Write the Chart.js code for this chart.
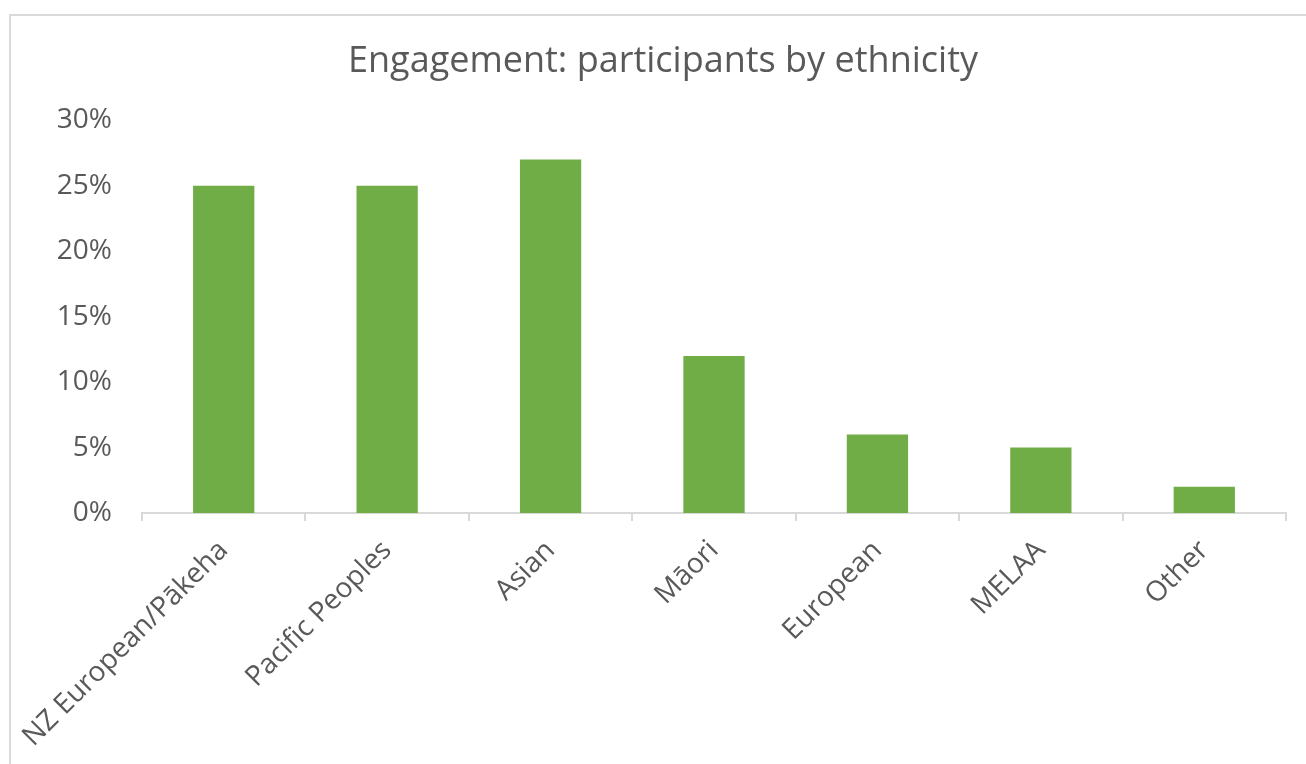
<!DOCTYPE html>
<html>
<head>
<meta charset="utf-8">
<script src="https://cdn.jsdelivr.net/npm/chart.js@4.4.0/dist/chart.umd.min.js"></script>
<style>
  html, body { margin: 0; padding: 0; background: #fff; overflow: hidden; }
  #frame { position: absolute; left: 9px; top: 14px; width: 2000px; height: 2000px; border: 2px solid #d9d9d9; }
  #wrap { position: absolute; left: 0; top: 0; width: 1306px; height: 764px; }
</style>
</head>
<body>
<div id="frame"></div>
<div id="wrap"><canvas id="chart" width="1306" height="764"></canvas></div>
<script>
// --- data ---
const categories = ['NZ European/Pākeha', 'Pacific Peoples', 'Asian', 'Māori', 'European', 'MELAA', 'Other'];
const participants = [25, 25, 27, 12, 6, 5, 2];
const yTicks = [0, 5, 10, 15, 20, 25, 30];

const textColor = '#595959';
const fontFamily = '"Open Sans", "Noto Sans", sans-serif';

const ctx = document.getElementById('chart').getContext('2d');
new Chart(ctx, {
    type: 'bar',
    data: {
        labels: categories,
        datasets: [{
            data: participants,
            backgroundColor: '#70ad47',
            borderWidth: 0,
            categoryPercentage: 1,
            barPercentage: 0.375
        }]
    },
    options: {
        responsive: false,
        animation: false,
        layout: { padding: { left: 40, right: 20, top: 0, bottom: 0 } },
        plugins: {
            legend: { display: false },
            tooltip: { enabled: false },
            title: {
                display: true,
                text: 'Engagement: participants by ethnicity',
                color: textColor,
                font: { family: fontFamily, size: 36, weight: 'normal' },
                padding: { top: 40, bottom: 37 }
            }
        },
        scales: {
            y: {
                min: 0,
                max: 30,
                afterBuildTicks: axis => { axis.ticks = yTicks.map(v => ({ value: v })); },
                afterFit: axis => { axis.width = 102; },
                grid: { display: false, drawTicks: false },
                border: { display: false },
                ticks: {
                    color: textColor,
                    font: { family: fontFamily, size: 28 },
                    padding: 30,
                    callback: v => v + '%'
                }
            },
            x: {
                afterFit: axis => { axis.height = 251; },
                grid: { display: true, drawOnChartArea: false, color: '#d9d9d9', lineWidth: 2, tickLength: 8, offset: true },
                border: { display: true, color: '#d9d9d9', width: 2 },
                ticks: {
                    color: textColor,
                    font: { family: fontFamily, size: 28 },
                    maxRotation: 45,
                    minRotation: 45,
                    padding: 13
                }
            }
        }
    }
});
</script>
</body>
</html>
